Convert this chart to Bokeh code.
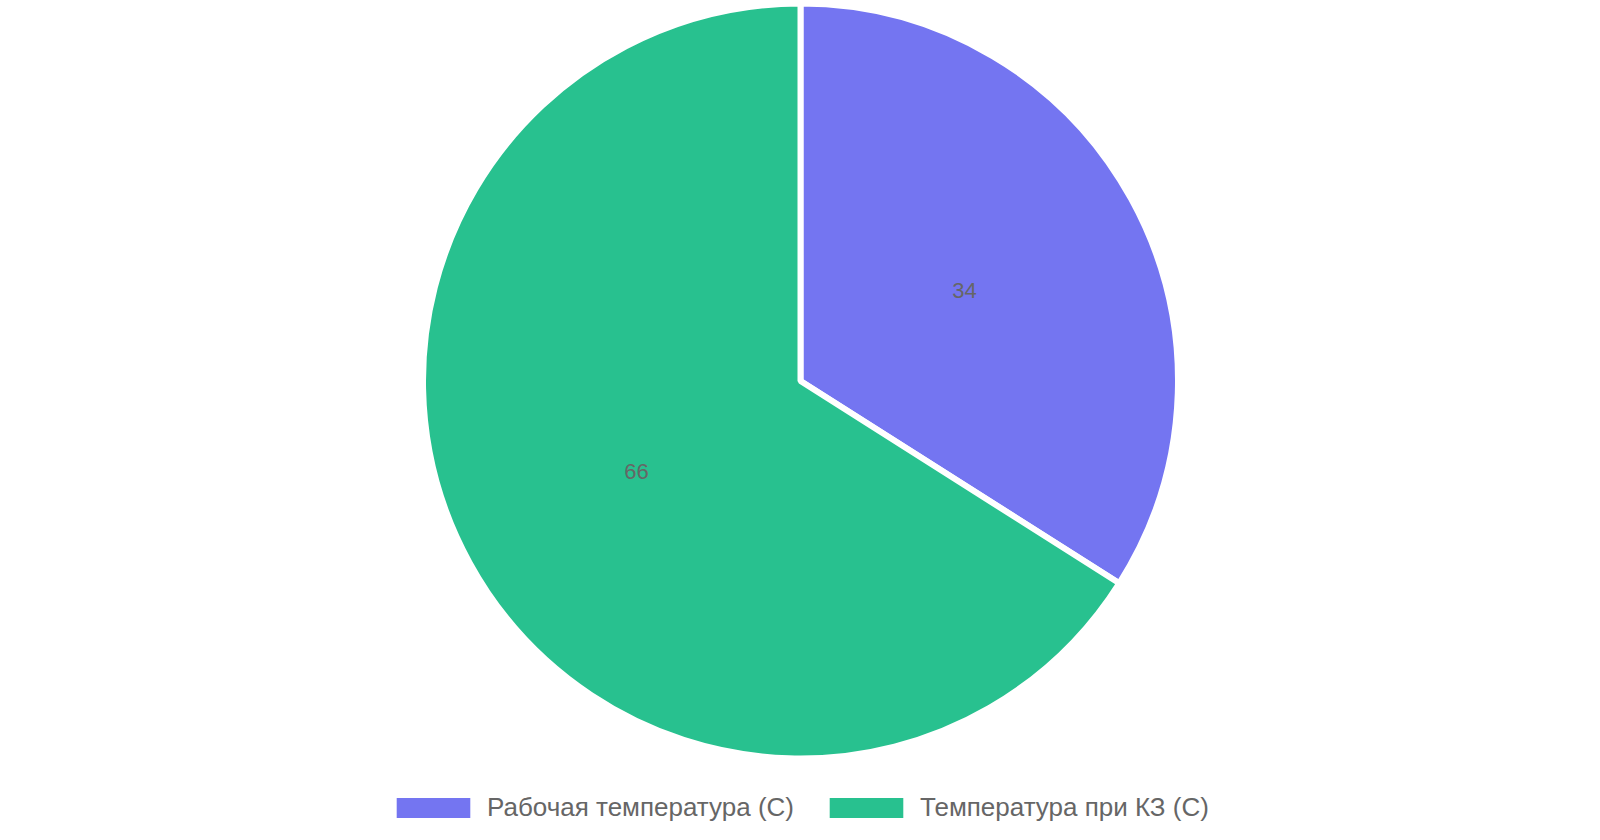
import numpy as np
from bokeh.plotting import figure
from bokeh.models import Range1d, Legend, LegendItem, ColumnDataSource
from bokeh.core.properties import value
from bokeh.embed import file_html
from bokeh.resources import INLINE

# ---- data ----
categories = ["Рабочая температура (С)", "Температура при КЗ (С)"]
values = [34, 66]
colors = ["#7475f1", "#28c18f"]

# ---- layout constants (screen px) ----
W, H = 1584, 824
CX, CY_SCREEN, R = 800, 380.5, 377.5
FONT = "Liberation Sans"

vals = np.array(values, dtype=float)
frac = vals / vals.sum()
cum = np.concatenate([[0], np.cumsum(frac)])
start = np.pi / 2 - cum[:-1] * 2 * np.pi
end = np.pi / 2 - cum[1:] * 2 * np.pi
mid = (start + end) / 2

cy = 840 - CY_SCREEN  # data y is flipped screen y
src = ColumnDataSource(dict(
    cat=categories, val=values, color=colors,
    start=start, end=end,
    lx=CX + 0.5 * (R - 3) * np.cos(mid), ly=cy + 0.5 * (R - 3) * np.sin(mid),
    lab=[str(v) for v in values],
))

p = figure(width=W, height=H, output_backend="svg", toolbar_location=None,
           x_range=Range1d(0, W), y_range=Range1d(840 - H, 840),
           min_border=0, outline_line_color=None)
p.axis.visible = False
p.grid.visible = False

# borderless wedges (used for legend swatches)
base = p.wedge(x=CX, y=cy, radius=R, start_angle="start", end_angle="end",
               direction="clock", fill_color="color", line_alpha=0, source=src)
# visible wedges with white separators
p.wedge(x=CX, y=cy, radius=R, start_angle="start", end_angle="end",
        direction="clock", fill_color="color", line_color="white",
        line_width=6, source=src)

p.text(x="lx", y="ly", text="lab", source=src, text_align="center",
       text_baseline="middle", text_font=value(FONT),
       text_font_size="22px", text_color="#666666")

items = [LegendItem(label=c, renderers=[base], index=i)
         for i, c in enumerate(categories)]

leg = Legend(items=items, orientation="horizontal", location=(387, 1),
             glyph_width=92, glyph_height=25, label_standoff=8, spacing=26,
             padding=0, margin=0, border_line_alpha=0, background_fill_alpha=0,
             label_text_font=FONT, label_text_font_size="26px",
             label_text_color="#666666", label_height=20)
p.add_layout(leg)

open("out.html", "w").write(file_html(p, INLINE))
